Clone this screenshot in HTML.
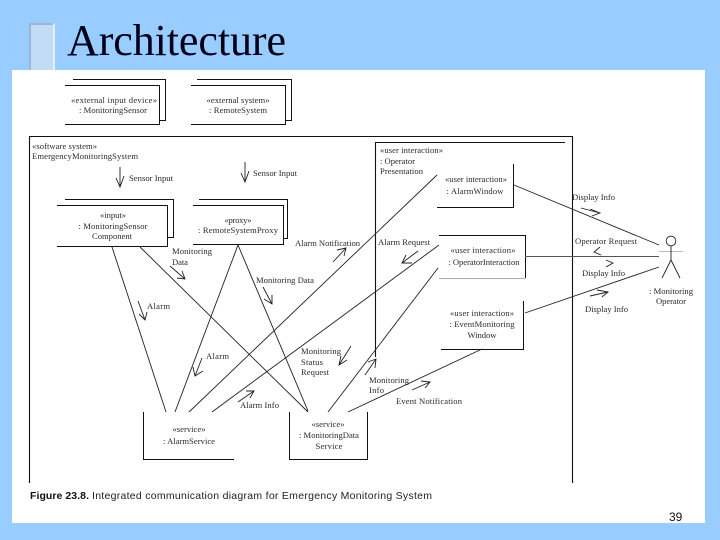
<!DOCTYPE html>
<html><head><meta charset="utf-8"><style>
html,body{margin:0;padding:0;width:720px;height:540px;overflow:hidden;background:#99ccff}
svg{display:block}
text{font-family:"Liberation Serif",serif;font-size:8.6px;fill:#2a2a2a;filter:blur(.25px)}
.c{text-anchor:middle}
</style></head><body>
<svg width="720" height="540" viewBox="0 0 720 540" xmlns="http://www.w3.org/2000/svg">
<rect width="720" height="540" fill="#99ccff"/>
<rect x="29" y="23" width="26" height="48" fill="#c2dcf5"/>
<path d="M30 70V24H53" fill="none" stroke="#9cb6d6" stroke-width="2"/>
<path d="M54 24V70" fill="none" stroke="#eef6fd" stroke-width="1.5"/>
<rect x="12" y="70" width="693" height="453" fill="#fff"/>
<text x="67" y="55" style="font-size:44px;fill:#000018;filter:none" textLength="219">Architecture</text>
<text x="669" y="521" style="font-family:'Liberation Sans',sans-serif;font-size:12px;fill:#111;filter:none">39</text>

<g fill="none" stroke="#111" stroke-width="1">
<path d="M73 79.500H165.500V120.500H159.500"/>
<path d="M65 85.500H159.500V124.500H65"/>
<path d="M197 79.500H291.500V120.500H285.500"/>
<path d="M191 85.500H285.500V124.500H191"/>
<path d="M29.500 483V136.500H572.500V483" stroke-width="1.1"/>
<path d="M565 142.500H375.500V357" stroke-width="1.1"/>
<path d="M513.500 164V207.500H437"/>
<path d="M439 235.500H525.500V278"/>
<path d="M523.500 301V349.500H441"/>
<path d="M65 199.500H173.500V237.500H167.500"/>
<path d="M57 205.500H167.500V246.500H57"/>
<path d="M199 199.500H287.500V238.500H283.500"/>
<path d="M193 205.500H283.500V244.500H193"/>
<path d="M143.500 412V459.500H234"/>
<path d="M289.500 412V459.500H367.500V412"/>
</g>
<path d="M439 278.500H525" stroke="#aaa" stroke-width="1" fill="none"/>

<g fill="none" stroke="#222" stroke-width="0.9">
<!-- connectors -->
<path d="M514 185L659 245"/>
<path d="M525 256.500H659" stroke="#555"/>
<path d="M525 313L659 267"/>
<path d="M482 349L348 412"/>
<path d="M112 247L166 412"/>
<path d="M140 247L308 412"/>
<path d="M238 245L175 412"/>
<path d="M238 245L308 411"/>
<path d="M189 412L437 175"/>
<path d="M212 412L439 245"/>
<path d="M328 412L438 268"/>
<!-- actor -->
<circle cx="671" cy="241" r="4.800"/>
<path d="M659 251.500H683" stroke="#bbb"/>
<path d="M671 246V260M671 260L662 278M671 260L680 278"/>
<!-- arrows -->
<path d="M120 167V187M116 178L120 187L124 176"/>
<path d="M245 162V182M241 173L245 182L249 171"/>
<path d="M170 266L185 279M177 278L185 279L182 271"/>
<path d="M263 287L272 304M264 299L272 304L272 295"/>
<path d="M138 301L145 320M139 314L145 320L147 312"/>
<path d="M202 358L195 376M193 367L195 376L203 371"/>
<path d="M333 262L346 248M337 250L346 248L344 256"/>
<path d="M418 251L402 263M406 255L402 263L412 263"/>
<path d="M351 346L339 365M341 356L339 365L347 360"/>
<path d="M365 375L376 359M368 362L376 359L375 368"/>
<path d="M238 402L254 391M246 391L254 391L250 398"/>
<path d="M412 390L430 382M421 381L430 382L425 388"/>
<path d="M581 208L600 213M590 209L600 213L592 216"/>
<path d="M600 247L594 252L601 255"/>
<path d="M606 260L613 263L606 267"/>
<path d="M590 296L608 292M597 290L608 292L602 297"/>
</g>

<!-- box labels -->
<text class="c" x="114" y="103" textLength="86">«external input device»</text>
<text class="c" x="113" y="113" textLength="68">: MonitoringSensor</text>
<text class="c" x="238" y="103" textLength="63">«external system»</text>
<text class="c" x="238" y="113" textLength="58">: RemoteSystem</text>
<text x="32" y="149" textLength="65">«software system»</text>
<text x="32" y="159" textLength="106">EmergencyMonitoringSystem</text>
<text x="129" y="181" textLength="44">Sensor Input</text>
<text x="253" y="176" textLength="44">Sensor Input</text>
<text class="c" x="113" y="218" textLength="26">«input»</text>
<text class="c" x="113" y="229" textLength="69">: MonitoringSensor</text>
<text class="c" x="112" y="239" textLength="40">Component</text>
<text class="c" x="238" y="223" textLength="27">«proxy»</text>
<text class="c" x="238" y="233" textLength="80">: RemoteSystemProxy</text>
<text x="172" y="254" textLength="40">Monitoring</text>
<text x="172" y="265" textLength="16">Data</text>
<text x="256" y="283" textLength="58">Monitoring Data</text>
<text x="147" y="309" textLength="23">Alarm</text>
<text x="206" y="359" textLength="23">Alarm</text>
<text x="295" y="246" textLength="65">Alarm Notification</text>
<text x="378" y="245" textLength="52">Alarm Request</text>
<text x="301" y="354" textLength="40">Monitoring</text>
<text x="301" y="365" textLength="22">Status</text>
<text x="301" y="375" textLength="28">Request</text>
<text x="369" y="383" textLength="40">Monitoring</text>
<text x="369" y="393" textLength="15">Info</text>
<text x="240" y="408" textLength="39">Alarm Info</text>
<text x="396" y="404" textLength="66">Event Notification</text>
<text x="380" y="153" textLength="63">«user interaction»</text>
<text x="380" y="164" textLength="35">: Operator</text>
<text x="380" y="174" textLength="43">Presentation</text>
<text class="c" x="476" y="182" textLength="62">«user interaction»</text>
<text class="c" x="475" y="194" textLength="57">: AlarmWindow</text>
<text class="c" x="483" y="253" textLength="65">«user interaction»</text>
<text class="c" x="484" y="265" textLength="71">: OperatorInteraction</text>
<text class="c" x="482" y="316" textLength="64">«user interaction»</text>
<text class="c" x="482" y="327" textLength="65">: EventMonitoring</text>
<text class="c" x="482" y="338" textLength="29">Window</text>
<text class="c" x="189" y="432" textLength="33">«service»</text>
<text class="c" x="189" y="444" textLength="52">: AlarmService</text>
<text class="c" x="328" y="427" textLength="33">«service»</text>
<text class="c" x="329" y="438" textLength="60">: MonitoringData</text>
<text class="c" x="329" y="449" textLength="27">Service</text>
<text x="572" y="200" textLength="43">Display Info</text>
<text x="575" y="244" textLength="62">Operator Request</text>
<text x="582" y="276" textLength="43">Display Info</text>
<text x="585" y="312" textLength="43">Display Info</text>
<text class="c" x="671" y="294" textLength="44">: Monitoring</text>
<text class="c" x="671" y="304" textLength="30">Operator</text>
<text x="30" y="499" style="font-family:'Liberation Sans',sans-serif;font-size:10.500px;font-weight:bold;fill:#111" textLength="59">Figure 23.8.</text>
<text x="92" y="499" style="font-family:'Liberation Sans',sans-serif;font-size:10.500px;fill:#222" textLength="340">Integrated communication diagram for Emergency Monitoring System</text>
</svg>
</body></html>
